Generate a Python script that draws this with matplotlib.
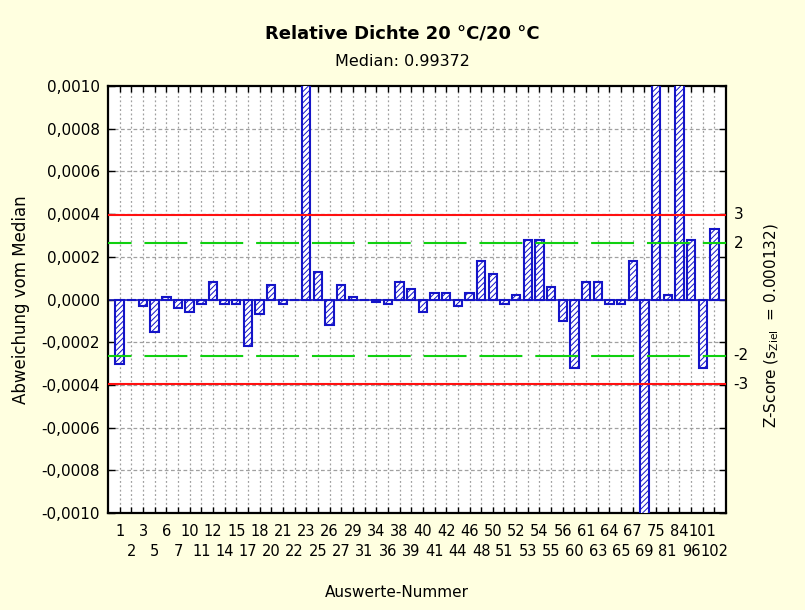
import numpy as np
import matplotlib
matplotlib.use('Agg')
from matplotlib import pyplot as plt

plt.rcParams['font.family'] = ['DejaVu Sans']
plt.rcParams['mathtext.fontset'] = 'dejavusans'
plt.rcParams['hatch.linewidth'] = 0.7

# Auswerte-Nummern (x categories)
labels = ['1', '2', '3', '5', '6', '7', '10', '11', '12', '14', '15', '17', '18',
          '20', '21', '22', '23', '25', '26', '27', '29', '31', '34', '36', '38', '39',
          '40', '41', '42', '44', '46', '48', '50', '51', '52', '53', '54', '55', '56',
          '60', '61', '63', '64', '65', '67', '69', '75', '81', '84', '96', '101', '102']

# deviation from median, in units of 1e-4 (values outside +-10 are clipped in the chart)
deviation = [-3.0, 0.0, -0.3, -1.5, 0.1, -0.4, -0.6, -0.2, 0.8, -0.2, -0.2, -2.2, -0.7,
             0.7, -0.2, 0.0, 15.0, 1.3, -1.2, 0.7, 0.1, 0.0, -0.1, -0.2, 0.8, 0.5,
             -0.6, 0.3, 0.3, -0.3, 0.3, 1.8, 1.2, -0.2, 0.2, 2.8, 2.8, 0.6, -1.0,
             -3.2, 0.8, 0.8, -0.2, -0.2, 1.8, -15.0, 15.0, 0.2, 15.0, 2.8, -3.2, 3.3]

median = 0.99372
s_ziel = 0.000132
z_levels = [3, 2, -2, -3]
y_ticks = [-0.0010, -0.0008, -0.0006, -0.0004, -0.0002, 0.0, 0.0002, 0.0004, 0.0006, 0.0008, 0.0010]

values = np.array(deviation) * 1e-4
x = np.arange(len(labels))

fig = plt.figure(figsize=(8.05, 6.10), dpi=100, facecolor='#ffffe0')
ax = fig.add_axes([0.1342, 0.159, 0.7677, 0.700])
ax.set_facecolor('white')

# grid
for xi in x:
    ax.axvline(xi, color='#a0a0a0', lw=0.9, linestyle=(0, (1.5, 2)), zorder=1)
for yt in y_ticks[1:-1]:
    ax.axhline(yt, color='#a0a0a0', lw=0.9, linestyle=(0, (3, 2)), zorder=1)

ax.axhline(0, color='#1a1ab0', lw=1.2, zorder=2)

ax.bar(x, values, width=0.72, facecolor='white', edgecolor='#1414c8',
       hatch='//////', linewidth=1.5, zorder=3)

# z-score limits
for z in z_levels:
    if abs(z) == 3:
        ax.axhline(z * s_ziel, color='#ff1010', lw=1.5, zorder=4)
    else:
        ax.axhline(z * s_ziel, color='#10d010', lw=1.5,
                   linestyle=(9.3, (20.6, 6.2)), zorder=4)
    ax.text(1.012, z * s_ziel, str(z), transform=ax.get_yaxis_transform(),
            ha='left', va='center', fontsize=11)

ax.set_xlim(-1, len(labels))
ax.set_ylim(-0.0010, 0.0010)

ax.set_yticks(y_ticks)
ax.set_yticklabels([f'{v:.4f}'.replace('.', ',') for v in y_ticks], fontsize=11)

# labels in two staggered rows
ax.set_xticks(x[::2])
ax.set_xticklabels(labels[::2], fontsize=10.5)
ax.set_xticks(x[1::2], minor=True)
ax.set_xticklabels(labels[1::2], minor=True, fontsize=10.5)

ax.tick_params(axis='x', which='both', direction='in', length=4, width=1, top=True)
ax.tick_params(axis='x', which='major', pad=8)
ax.tick_params(axis='x', which='minor', pad=22)
ax.tick_params(axis='y', direction='in', length=5, width=1, right=True, pad=6)
for spine in ax.spines.values():
    spine.set_linewidth(1.6)

ax.set_xlabel('Auswerte-Nummer', fontsize=11)
ax.xaxis.set_label_coords(0.468, -0.169)
ax.set_ylabel('Abweichung vom Median', fontsize=12, labelpad=8)

fig.text(0.959, 0.466, 'Z-Score (s$_{\\mathrm{Ziel}}$  = 0.000132)', rotation=90,
         ha='center', va='center', fontsize=11)

fig.text(0.5, 0.945, 'Relative Dichte 20 °C/20 °C', ha='center', va='center',
         fontsize=13, fontweight='bold')
fig.text(0.5, 0.899, f'Median: {median}', ha='center', va='center', fontsize=11.5)

fig.savefig('out.png', dpi=100, facecolor=fig.get_facecolor())
